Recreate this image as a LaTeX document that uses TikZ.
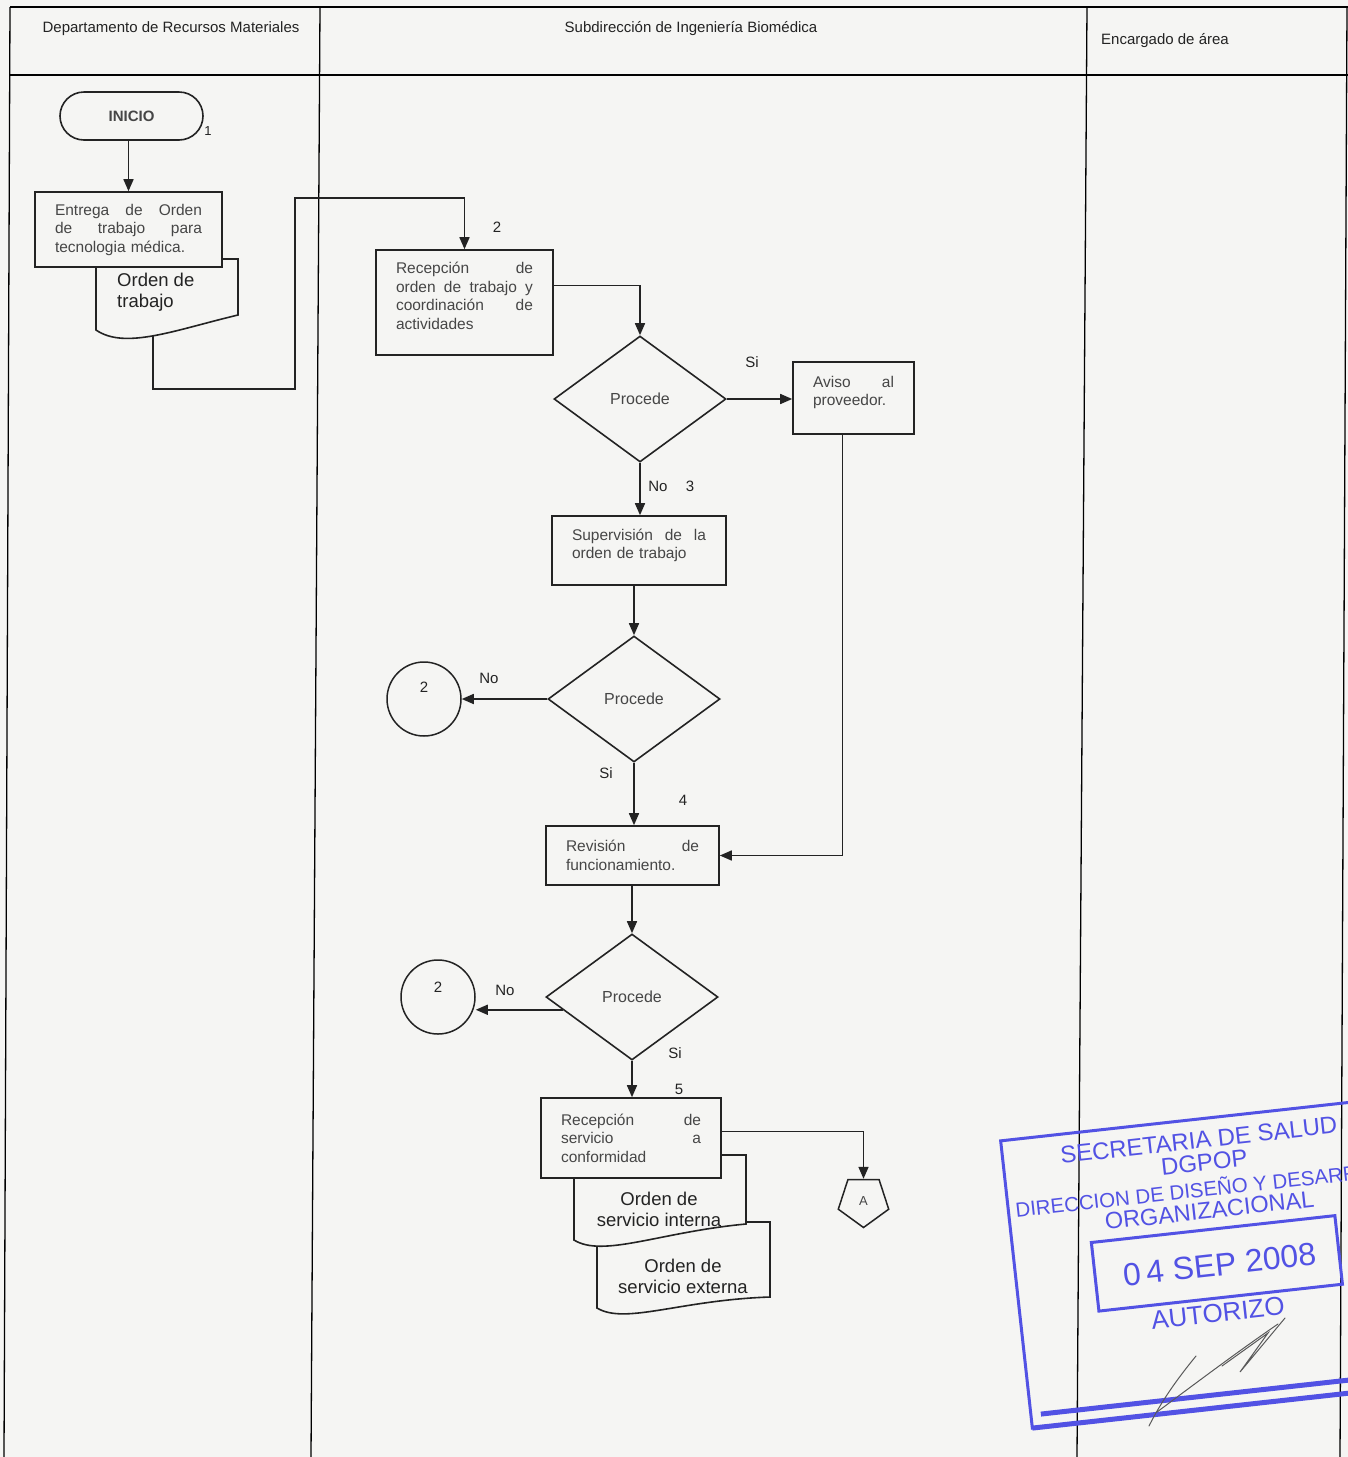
\documentclass[tikz,border=0pt]{standalone}
\usepackage{fontspec}
\setmainfont{Liberation Sans}
\usetikzlibrary{arrows.meta,shapes.geometric,calc}
\definecolor{bg}{RGB}{245,245,243}
\definecolor{ink}{RGB}{35,35,35}
\definecolor{txt}{RGB}{70,70,70}
\definecolor{stampblue}{RGB}{82,82,228}
\tikzset{
  grid/.style={draw=black, line width=1.3pt},
  box/.style={draw=ink, line width=1.6pt, fill=bg, inner xsep=20pt, inner ysep=4pt, align=left, text=txt, font=\fontsize{15.5}{18.5}\selectfont},
  dec/.style={diamond, draw=ink, line width=1.6pt, fill=bg, minimum width=172pt, minimum height=126pt, inner sep=0pt, text=txt, font=\fontsize{16}{19}\selectfont},
  circ/.style={circle, draw=ink, line width=1.5pt, minimum size=74pt, inner sep=0pt},
  arr/.style={draw=ink, line width=1.6pt, -{Triangle[length=12pt,width=10pt]}},
  lbl/.style={text=ink, font=\fontsize{15}{18}\selectfont, inner sep=0pt},
  docshape/.style={draw=ink, line width=1.6pt, fill=bg},
  doctext/.style={text=ink, font=\fontsize{18.5}{21}\selectfont, align=center, inner sep=0pt},
  hdr/.style={text=ink, font=\fontsize{15}{18}\selectfont, inner sep=0pt},
  stampline/.style={draw=stampblue, line width=3pt},
  stamptext/.style={text=stampblue, inner sep=0pt},
  sig/.style={draw=black!65, line width=1pt, line cap=round}
}
\begin{document}
\begin{tikzpicture}[x=1pt,y=-1pt]
\useasboundingbox (0,0) rectangle (1348,1457);
\fill[bg] (0,0) rectangle (1348,1457);
\clip (0,0) rectangle (1348,1457);

% ---- table ----
\draw[grid] (10,7) -- (1348,7);
\draw[grid, line width=2.2pt] (10,75) -- (1348,75);
\draw[grid] (10,7) -- (4,1457);
\draw[grid] (320,7) -- (311,1457);
\draw[grid] (1087,7) -- (1077,1457);
\draw[grid] (1347,7) -- (1340,1457);

\node[hdr] (h1) at (171,29) {Departamento de Recursos Materiales};
\node[hdr] (h2) at (691,29) {Subdirección de Ingeniería Biomédica};
\node[hdr, anchor=west] (h3) at (1101,41) {Encargado de área};

% ---- start ----
\node[draw=ink, line width=1.6pt, rounded corners=24pt, minimum width=143pt, minimum height=48pt, fill=bg, text=txt, font=\bfseries\fontsize{15}{18}\selectfont] (ini) at (131.5,116) {INICIO};
\node[lbl, font=\fontsize{13}{15}\selectfont] (n1) at (208,131) {1};

% ---- document: Orden de trabajo (behind box) ----
\path[docshape] (96,259) -- (238,259) -- (238,315) .. controls (175,330) and (125,350) .. (96,330) -- cycle;
\node[doctext, align=left, anchor=west] (otrab) at (117,292) {Orden de\\trabajo};
\coordinate (otrabB) at (153,336);

\node[box, text width=147pt, minimum height=75pt] (ent) at (128.5,229.5) {Entrega \hfill de \hfill Orden\\ de \hfill trabajo \hfill para\\ tecnologia médica.};

% ---- Subdireccion column ----
\node[box, text width=137pt, minimum height=105pt] (rec1) at (464.5,302.5) {Recepción \hfill de\\ orden \hfill de \hfill trabajo \hfill y\\ coordinación \hfill de\\ actividades\\[-11pt]\strut};
\node[lbl] (n2) at (497,227) {2};

\node[dec] (d1) at (640,399) {Procede};
\node[box, text width=81pt, minimum height=72pt] (av) at (853.5,398) {Aviso \hfill al\\ proveedor.\\[-10pt]\strut};
\node[lbl] (si1) at (752,362) {Si};

\node[box, text width=134pt, minimum height=69pt] (sup) at (639,550.5) {Supervisión \hfill de \hfill la\\ orden de trabajo\\[-11pt]\strut};
\node[lbl] (no1) at (658,486) {No};
\node[lbl] (n3) at (690,486) {3};

\node[dec] (d2) at (634,699) {Procede};
\node[circ] (c2a) at (424,699) {};
\node[lbl] (c2at) at (424,687) {2};
\node[lbl] (no2) at (489,678) {No};
\node[lbl] (si2) at (606,773) {Si};
\node[lbl] (n4) at (683,800) {4};

\node[box, text width=133pt, minimum height=59pt] (rev) at (632.5,855.5) {Revisión \hfill de\\ funcionamiento.};

\node[dec] (d3) at (632,997) {Procede};
\node[circ] (c2b) at (438,997) {};
\node[lbl] (c2bt) at (438,987) {2};
\node[lbl] (no3) at (505,990) {No};
\node[lbl] (si3) at (675,1053) {Si};
\node[lbl] (n5) at (679,1089) {5};

% ---- stacked documents ----
\path[docshape] (597,1222) -- (770,1222) -- (770,1297) .. controls (680,1300) and (625,1325) .. (597,1308) -- cycle;
\node[doctext] (oext) at (683,1276) {Orden de\\servicio externa};
\path[docshape] (574,1155) -- (746,1155) -- (746,1224) .. controls (660,1232) and (603,1258) .. (574,1240) -- cycle;
\node[doctext] (oint) at (659,1209) {Orden de\\servicio interna};

\node[box, text width=140pt, minimum height=80pt] (rs) at (631,1138) {Recepción \hfill de\\ servicio \hfill a\\ conformidad};

\node[regular polygon, regular polygon sides=5, shape border rotate=180, draw=ink, line width=1.5pt, fill=bg, minimum size=53pt, inner sep=0pt, text=txt, font=\fontsize{13}{15}\selectfont] (pA) at (863.5,1201) {A};

% ---- connectors ----
\draw[arr] (ent.north |- ini.south) -- (ent.north);
\coordinate (b1) at (295,389);
\coordinate (b2) at (295,198);
\draw[arr] (otrabB) |- (b1) -- (b2) -| (rec1.north);
\draw[arr] ($(rec1.north east)!0.34!(rec1.south east)$) -| (d1.north);
\draw[arr] (d1.east) -- (d1.east -| av.west);
\coordinate (avB) at ($(av.south west)!0.41!(av.south east)$);
\draw[arr] (avB) |- (rev.east);
\draw[arr] (d1.south) -- (d1.south |- sup.north);
\draw[arr] (sup.south -| d2.north) -- (d2.north);
\draw[arr] (d2.west) -- (c2a.east);
\draw[arr] (d2.south) -- (d2.south |- rev.north);
\draw[arr] (rev.south -| d3.north) -- (d3.north);
\coordinate (d3p) at ($(d3.west)!0.2!(d3.south)$);
\draw[arr] (d3p) -- (d3p -| c2b.east);
\draw[arr] (d3.south) -- (d3.south |- rs.north);
\draw[arr] ($(rs.north east)!0.42!(rs.south east)$) -| (pA.north);

% ---- stamp ----
\begin{scope}[shift={(1180,1280)}, rotate=6.3, transform shape]
  \draw[stampline] (280,-158) -- (-163,-158) -- (-163,131) -- (280,131);
  \draw[stampline, line width=5pt] (-163,131) -- (280,131);
  \draw[stampline, line width=5pt] (-153,118) -- (280,118);
  \draw[stampline] (-84,-47) rectangle (161,22);
  \node[stamptext, font=\fontsize{24}{28}\selectfont] (st1) at (34,-137) {SECRETARIA DE SALUD};
  \node[stamptext, font=\fontsize{24}{28}\selectfont] (st2) at (37,-114) {DGPOP};
  \node[stamptext, font=\fontsize{20.5}{24}\selectfont, anchor=west] (st3) at (-156,-89) {DIRECCION DE DISEÑO Y DESARROLLO};
  \node[stamptext, font=\fontsize{23.5}{28}\selectfont] (st4) at (37,-66) {ORGANIZACIONAL};
  \node[stamptext, font=\fontsize{32}{36}\selectfont] (st5) at (41,-11) {0\,4 SEP 2008};
  \node[stamptext, font=\fontsize{26}{30}\selectfont] (st6) at (34,37) {AUTORIZO};
\end{scope}

% ---- signature ----
\draw[sig] (1149,1426) .. controls (1162,1400) and (1178,1378) .. (1196,1356);
\draw[sig] (1157,1412) .. controls (1200,1380) and (1240,1350) .. (1278,1324);
\draw[sig] (1222,1366) -- (1268,1333) -- (1240,1372) -- (1285,1318);
\end{tikzpicture}
\end{document}
